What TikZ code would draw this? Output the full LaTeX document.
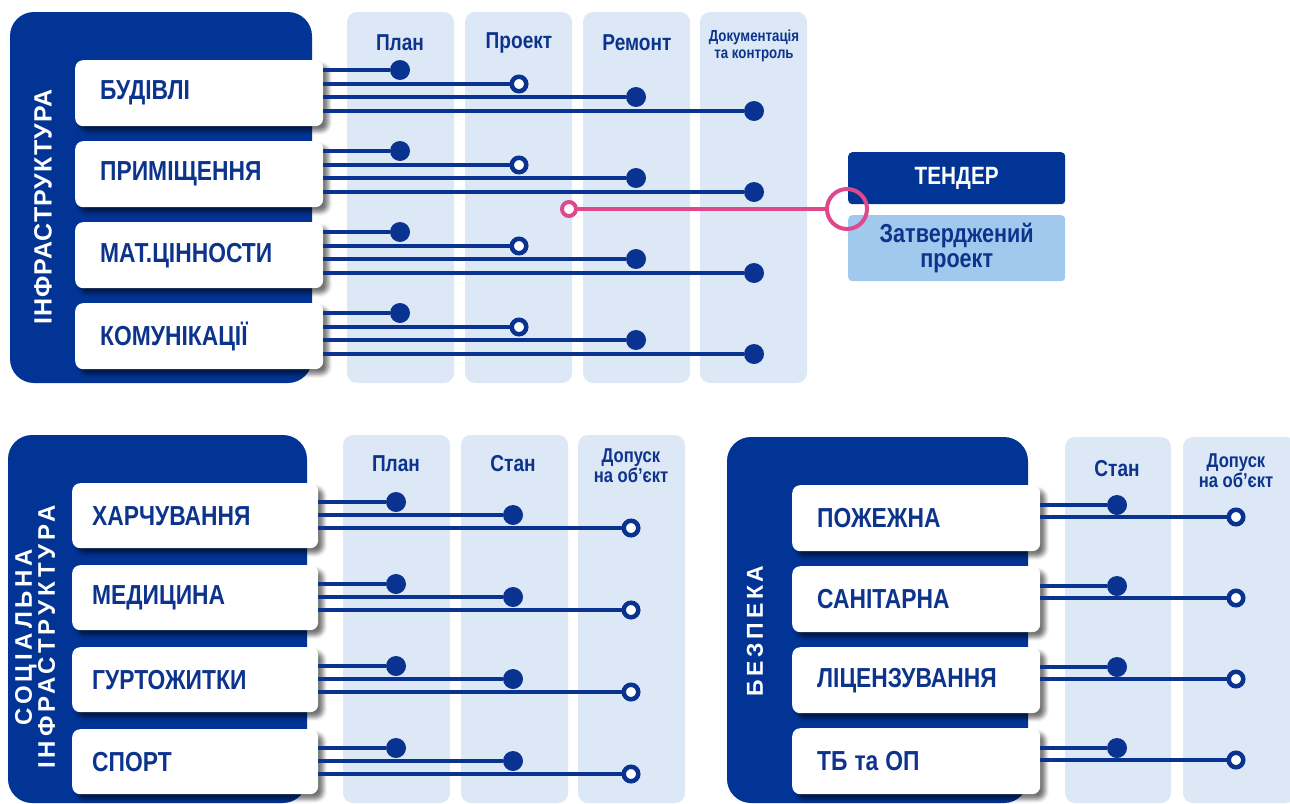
\documentclass[tikz,border=0pt]{standalone}
\usepackage{fontspec}
\setmainfont{Liberation Sans}[FakeStretch=0.83]
\newfontfamily\vfontA{Liberation Sans}[LetterSpace=4]
\newfontfamily\vfontB{Liberation Sans}[LetterSpace=16]
\usetikzlibrary{shadows.blur}
\definecolor{navy}{RGB}{2,52,150}
\definecolor{textblue}{RGB}{12,52,140}
\definecolor{lineblue}{RGB}{10,50,145}
\definecolor{colbg}{RGB}{221,232,246}
\definecolor{tenderlight}{RGB}{160,201,237}
\definecolor{pinkc}{RGB}{224,72,140}
\tikzset{
  panel/.style={fill=navy, rounded corners=24pt},
  colbox/.style={fill=colbg, rounded corners=10pt},
  item/.style={fill=white, rounded corners=8pt, text=textblue,
    font=\fontsize{27.5}{29}\selectfont\bfseries, inner ysep=0pt,
    minimum height=66pt, align=left, anchor=north west,
    blur shadow={shadow xshift=5pt, shadow yshift=-5pt, shadow blur radius=4pt, shadow opacity=55}},
  itemA/.style={item, text width=198pt, inner xsep=25pt},
  itemB/.style={item, text width=206pt, inner xsep=20pt, minimum height=65pt},
  fdot/.style={circle, fill=lineblue, minimum size=20pt, inner sep=0pt},
  odot/.style={circle, draw=lineblue, line width=4.5pt, fill=white, minimum size=14.5pt, inner sep=0pt},
  conn/.style={draw=lineblue, line width=4pt},
  head/.style={text=textblue, font=\fontsize{23}{24}\selectfont\bfseries, inner sep=0pt},
  headsmall/.style={text=textblue, font=\fontsize{16}{17}\selectfont\bfseries, inner sep=0pt, align=center},
  headdop/.style={text=textblue, font=\fontsize{20}{15}\selectfont\bfseries, inner sep=0pt, align=center},
  vtext/.style={text=white, rotate=90, inner sep=0pt, align=center},
}
\begin{document}
\begin{tikzpicture}[x=1pt,y=-1pt]
\useasboundingbox (0,0) rectangle (1290,803);
% ---------- top section ----------
\fill[panel] (10,12) rectangle (312,383);
\fill[colbox] (347,12) rectangle (454,383);
\fill[colbox] (465,12) rectangle (572,383);
\fill[colbox] (583,12) rectangle (690,383);
\fill[colbox] (700,12) rectangle (807,383);
\node[head] (h1) at (400,43) {План};
\node[head] (h2) at (519,43) {Проект};
\node[head] (h3) at (637,43) {Ремонт};
\node[headsmall] (h4) at (754,46) {Документація\\та контроль};
\node[vtext, font=\vfontA\fontsize{25}{27}\selectfont\bfseries] (v1) at (43,207) {ІНФРАСТРУКТУРА};
\foreach \i/\t/\T in {1/БУДІВЛІ/60, 2/ПРИМІЩЕННЯ/141, 3/МАТ.ЦІННОСТИ/222, 4/КОМУНІКАЦІЇ/303} {
  \node[itemA] (a\i) at (75,\T) {\t};
  \node[fdot] (a\i p) at (400,\T+10) {};
  \node[odot] (a\i q) at (519,\T+24) {};
  \node[fdot] (a\i r) at (636,\T+37) {};
  \node[fdot] (a\i s) at (754,\T+51) {};
  \draw[conn] (a\i p -| a\i.east) -- (a\i p);
  \draw[conn] (a\i q -| a\i.east) -- (a\i q);
  \draw[conn] (a\i r -| a\i.east) -- (a\i r);
  \draw[conn] (a\i s -| a\i.east) -- (a\i s);
}
% tender
\node[fill=navy, rounded corners=4pt, minimum width=217pt, minimum height=52pt, anchor=north west,
  text=white, font=\fontsize{25}{26}\selectfont\bfseries, inner sep=0pt] (tender) at (848,152) {ТЕНДЕР};
\node[fill=tenderlight, rounded corners=4pt, minimum width=217pt, minimum height=66pt, anchor=north west,
  text=textblue, font=\fontsize{26}{25}\selectfont\bfseries, inner sep=0pt, align=center] (approved) at (848,215) {Затверджений\\проект};
\node[circle, draw=pinkc, line width=4pt, fill=white, minimum size=14pt, inner sep=0pt] (pk1) at (569,209) {};
\node[circle, draw=pinkc, line width=4pt, minimum size=40pt, inner sep=0pt] (pk2) at (847,209) {};
\draw[pinkc, line width=3.5pt] (pk1) -- (pk2);
% ---------- bottom left ----------
\fill[panel] (8,435) rectangle (307,803);
\fill[colbox] (343,435) rectangle (450,803);
\fill[colbox] (461,435) rectangle (568,803);
\fill[colbox] (578,435) rectangle (685,803);
\node[head] (h5) at (396,464) {План};
\node[head] (h6) at (513,464) {Стан};
\node[headdop] (h7) at (631,466) {Допуск\\на об’єкт};
\node[vtext, font=\vfontB\fontsize{24}{23}\selectfont\bfseries] (v2) at (35,637) {СОЦІАЛЬНА\\ІНФРАСТРУКТУРА};
\foreach \i/\t/\T in {1/ХАРЧУВАННЯ/483, 2/МЕДИЦИНА/565, 3/ГУРТОЖИТКИ/647, 4/СПОРТ/729} {
  \node[itemB] (b\i) at (72,\T) {\t};
  \node[fdot] (b\i p) at (396,\T+19) {};
  \node[fdot] (b\i q) at (513,\T+32) {};
  \node[odot] (b\i r) at (631,\T+45) {};
  \draw[conn] (b\i p -| b\i.east) -- (b\i p);
  \draw[conn] (b\i q -| b\i.east) -- (b\i q);
  \draw[conn] (b\i r -| b\i.east) -- (b\i r);
}
% ---------- bottom right ----------
\fill[panel] (727,437) rectangle (1028,803);
\fill[colbox] (1065,437) rectangle (1171,803);
\fill[colbox] (1183,437) rectangle (1296,803);
\node[head] (h8) at (1117,469) {Стан};
\node[headdop] (h9) at (1236,471) {Допуск\\на об’єкт};
\node[vtext, font=\vfontB\fontsize{23}{23}\selectfont\bfseries] (v3) at (755,631) {БЕЗПЕКА};
\foreach \i/\t/\T in {1/ПОЖЕЖНА/485, 2/САНІТАРНА/566, 3/ЛІЦЕНЗУВАННЯ/647, 4/ТБ\hspace{7pt}та\hspace{7pt}ОП/728} {
  \node[itemA] (c\i) at (792,\T) {\t};
  \node[fdot] (c\i p) at (1117,\T+20) {};
  \node[odot] (c\i q) at (1236,\T+32) {};
  \draw[conn] (c\i p -| c\i.east) -- (c\i p);
  \draw[conn] (c\i q -| c\i.east) -- (c\i q);
}
\end{tikzpicture}
\end{document}
